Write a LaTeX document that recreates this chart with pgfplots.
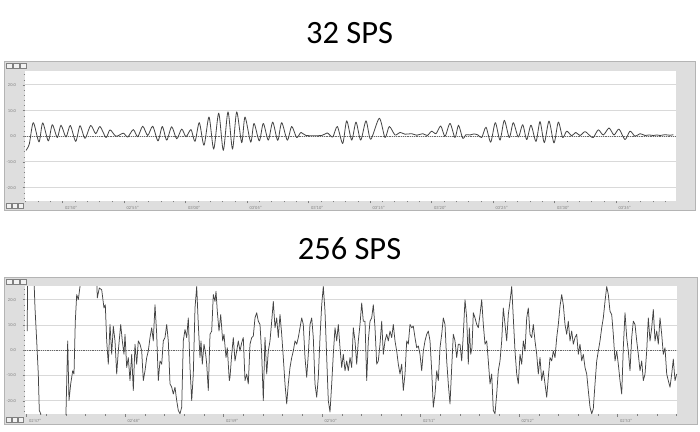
\documentclass[border=0pt]{standalone}
\usepackage{fontspec}
\setmainfont{Carlito}
\usepackage{pgfplots}
\pgfplotsset{compat=1.18}
\definecolor{framegray}{HTML}{DEDEDE}
\definecolor{frameedge}{HTML}{B4B4B4}
\definecolor{gridgray}{HTML}{D9D9D9}
\definecolor{sig}{HTML}{444444}
\definecolor{lbl}{HTML}{808080}
\pgfplotsset{
  panel/.style={
    anchor=south west, scale only axis,
    ymin=-25.2, ymax=25.4,
    axis line style={draw=none},
    axis background/.style={fill=white},
    ytick={-20,-10,0,10,20},
    yticklabels={-20.0,-10.0,0.0,10.0,20.0},
    minor ytick={-24,-22,...,24},
    ymajorgrids, grid style={gridgray, line width=0.9pt},
    minor grid style={draw=none},
    xtick pos=bottom, ytick pos=left,
    tick align=outside,
    major tick length=2.5pt, minor tick length=1.5pt,
    tick style={lbl, line width=0.4pt},
    every tick label/.append style={font=\fontsize{4.5}{5}\selectfont, text=lbl},
    yticklabel style={anchor=east, xshift=-3pt},
    xticklabel style={anchor=north west, xshift=-1pt, yshift=1pt},
    clip=true,
  },
  sigline/.style={sig, line width=0.8pt, line join=round},
}
\begin{document}
\begin{tikzpicture}[x=1pt,y=1pt]
\useasboundingbox (0,0) rectangle (700,431);
% ---------------- top panel frame ----------------
\fill[framegray] (4,221) rectangle (695,370);
\draw[frameedge, line width=0.9pt] (4,221) rectangle (695,370);
\foreach \i in {0,1,2} {\draw[lbl, fill=white!90!gray, line width=0.4pt] (6+7*\i,363) rectangle (12+7*\i,368);}
\foreach \i in {0,1,2} {\draw[lbl, fill=white!90!gray, line width=0.4pt] (6+6*\i,223) rectangle (11.5+6*\i,228);}
\node[anchor=base, font=\fontsize{32.5}{38}\selectfont] at (349.5,387.5) {32 SPS};
\begin{axis}[panel, at={(25pt,230pt)}, width=651pt, height=130pt,
  xmin=25, xmax=676,
  xtick={62.5,124,185.5,247,308.5,370,431.5,493,554.5,616},
  xticklabels={02'50'',02'55'',03'00'',03'05'',03'10'',03'15'',03'20'',03'25'',03'30'',03'35''},
  minor xtick={25.6,37.9,...,676},
]
\addplot[lbl!80!black, densely dotted, line width=0.8pt] coordinates {(25,0) (676,0)};
\addplot[sigline, smooth, tension=0.45] coordinates {
(26,-5.5) (29.3,-3) (33.3,5.3) (39,-2.2) (42.7,5.2) (48.3,-1.8) (52.3,4.5) (57.3,-0.5) (61,4.3) (66,-0.3)
(70.3,4.2) (75.7,-2) (80,4.1) (85,-0.8) (90.7,4.2) (95.7,1.0) (100,3.8) (106,-0.5) (110,2.5) (116,0)
(123.3,1.2) (127.7,-0.3) (133.3,2.6) (137.7,-0.2) (142.7,3.9) (147.7,0.3) (152.7,3.9) (158,-1.8) (162.3,3.8) (166.7,-1.5)
(171.7,3.7) (176.7,-1) (181.7,2.8) (186,-0.2) (191,2.6) (195,-2) (199.3,5.3) (204,-3.5) (209,7.5) (213.7,-5)
(218.7,9) (223.3,-5.5) (228,9.5) (232.5,-5) (236.7,9.5) (241.7,-2.5) (245,7.5) (250.7,-2.3) (254,5) (259.3,-1.8)
(263.3,5) (268.3,-1.5) (272.7,5.5) (277.7,-1.6) (281.7,5.3) (287.3,-1.5) (291.7,3.8) (296.7,-0.5) (301,1.5) (306,0.3)
(321.7,0.3) (327.3,1.3) (332.7,-0.3) (337.3,3.8) (342.7,-2.8) (346.7,6) (351.7,-1.5) (356,5.5) (360.7,-1.5) (366,6)
(370.7,-1.2) (379.3,7) (385,-0.5) (389.3,3.8) (395,0.5) (400,1.5) (405,0.8) (411.7,1.0) (416.7,0.4) (422.7,1.0)
(427.3,0.3) (431.7,2) (436,1) (440.7,4) (445,0) (450,5) (455,-0.5) (458.5,4.3) (462.7,-0.8) (466,0.6)
(470,0.5) (474,0.9) (478,0.5) (481.7,-0.5) (486,3.5) (490.7,-2.3) (495.3,5.3) (500,-1.5) (504.3,6.2) (509.3,-0.5)
(513.3,5.3) (518.3,-0.3) (522.7,4.5) (526.7,-1.3) (531,4.3) (536,-2) (540,5.7) (544.3,-2.5) (549,5.9) (554,-2.6)
(558.3,5.5) (562.7,-0.5) (566.7,2) (571.7,0.2) (575.7,1.5) (580,0.3) (585,1.8) (590,0.2) (593.3,-0.5) (598.3,2.5)
(603.3,0.5) (609,3.2) (614,0.5) (619,2.8) (625,-1.3) (630,2) (635,0) (640,1) (645,0.3) (649,0.5)
(653.3,0.3) (657,0.5) (660,0.3) (665,0.6) (670,0.4) (673.3,0.6)
};
\end{axis}
% ---------------- bottom panel frame ----------------
\fill[framegray] (4,7) rectangle (697,154);
\draw[frameedge, line width=0.9pt] (4,7) rectangle (697,154);
\foreach \i in {0,1,2} {\draw[lbl, fill=white!90!gray, line width=0.4pt] (6+7*\i,147) rectangle (12+7*\i,152);}
\foreach \i in {0,1,2} {\draw[lbl, fill=white!90!gray, line width=0.4pt] (6+6*\i,9) rectangle (11.5+6*\i,14);}
\node[anchor=base, font=\fontsize{32.5}{38}\selectfont] at (349.5,171.5) {256 SPS};
\begin{axis}[panel, at={(25pt,17pt)}, width=652pt, height=128pt,
  xmin=25, xmax=677,
  xtick={26.5,125,223.5,322,420.5,519,617.5},
  xticklabels={02'47'',02'48'',02'49'',02'50'',02'51'',02'52'',02'53''},
  minor xtick={26.5,46.2,...,677},
]
\addplot[lbl!80!black, densely dotted, line width=0.8pt] coordinates {(25,0) (677,0)};
\addplot[sigline, line width=0.75pt] coordinates {
(27.3,7.6) (27.5,30) (33.8,30) (35,16.7) (36.7,3.7) (38.3,-9.4) (39.3,-23.8) (40.7,-25.1) (41.2,-30) (65.6,-30)
(66,-24.4) (67.7,3.7) (69,-19.9) (70.7,-13.3) (72.7,-8.1) (74,-9.4) (75.3,11.5) (76.7,22.0) (78.3,20.0) (80,25.2)
(80.6,30) (96.5,30) (97.3,20.7) (99.3,24.6) (101.7,23.9) (104,16.7) (105.3,18.0) (106.7,3.7) (108.3,-5.5) (110,10.2)
(111.7,-1.6) (113.3,9.5) (115,3.7) (116.7,-9.4) (118.3,-0.3) (120.7,10.2) (122.3,3.7) (124,-1.6) (125,6.3) (126.7,-6.8)
(128.3,-2.9) (130,-12.0) (131.7,-1.6) (133.3,-15.9) (135,2.4) (136.7,-5.5) (138.3,3.7) (140,2.4) (141.7,-0.3) (143.3,-12.0)
(145,-8.1) (146.7,-2.9) (148.3,-0.3) (150,5.0) (151.7,8.9) (153.3,3.7) (155,18.0) (156.7,6.3) (158.3,-12.0) (160,-4.2)
(161.7,-5.5) (163.3,3.7) (165,5.0) (166.7,10.2) (168.3,3.7) (170,-13.3) (171.7,-14.6) (173.3,-17.3) (175,-14.6) (176.7,-19.9)
(178.3,-23.8) (180,-25.1) (181.7,-22.5) (183.3,3.7) (185,8.2) (186.7,5.0) (188.3,12.8) (190,-6.8) (191.7,-19.9) (193.3,-9.4)
(195,16.7) (196.7,25.2) (198.3,10.2) (200,-2.9) (201,3.7) (202.3,-5.5) (204,2.4) (205.7,-1.6) (206.7,-5.5) (208.3,-15.9)
(210,6.3) (211.7,7.6) (213.3,22.0) (215,19.3) (216,23.3) (217.3,15.4) (219,7.6) (220.7,14.1) (222.7,3.7) (224,6.3)
(226,-2.9) (227.3,1.0) (229.3,-12.0) (230,-10.7) (231.7,-1.6) (233.3,5.0) (235,-4.2) (236.7,-0.3) (238.3,3.7) (240,-0.3)
(241.7,3.0) (243.3,5.0) (245,-12.0) (246.7,-9.4) (248.3,-13.3) (250,2.4) (251.7,5.0) (253.3,5.6) (255,12.8) (256.7,14.8)
(258.3,11.5) (260,10.2) (261.7,-1.6) (263.3,-19.9) (265,5.0) (266.7,-9.4) (268.3,-0.3) (270,3.7) (271.7,11.5) (273.3,19.3)
(275,8.9) (276.7,12.8) (278.3,5.0) (280,14.1) (281.7,6.3) (283.3,-2.9) (285,-13.3) (286.7,-21.2) (288.3,-13.3) (290,-6.8)
(291.7,-2.9) (293.3,-0.3) (295,3.7) (296.7,2.4) (298.3,5.0) (300,8.9) (301.7,12.8) (303.3,10.2) (305,-2.9) (306.7,-10.7)
(308.3,-1.6) (310,10.2) (311.7,12.8) (313.3,5.0) (315,-13.3) (316.7,-18.6) (318.3,-10.7) (320,5.0) (321.7,18.0) (323.3,25.2)
(325,15.4) (326.7,-2.9) (328.3,-19.9) (330,-24.4) (331.7,-13.3) (333.3,-1.6) (335,8.9) (336.7,3.7) (338.3,10.2) (340,1.0)
(341.7,-6.8) (343.3,-1.6) (345,-8.1) (346.7,-4.2) (348.3,-8.1) (350,-2.9) (351.7,-6.8) (353.3,8.9) (355,3.7) (356.7,-5.5)
(358.3,3.7) (360,10.2) (361.7,18.7) (363.3,11.5) (365,11.5) (366.7,-12.0) (368.3,3.7) (370,11.5) (371.7,12.8) (373.3,18.0)
(375,8.9) (376.7,-5.5) (378.3,-4.2) (380,2.4) (381.7,11.5) (383.3,-1.6) (385,3.7) (386.7,6.3) (388.3,3.7) (390,7.6)
(391.7,5.0) (393.3,10.2) (395,3.7) (396.7,-0.3) (398.3,-5.5) (400,-9.4) (401.7,-5.5) (403.3,-15.9) (405,-9.4) (406.7,3.7)
(408.3,2.4) (410,10.2) (411.7,8.9) (413.3,9.5) (415,5.0) (416.7,1.0) (418.3,1.7) (420,-1.6) (421.7,-8.1) (423.3,-0.3)
(425,3.7) (426.7,6.3) (428.3,7.6) (430,3.7) (431.7,-8.1) (433.3,-22.5) (435,-17.3) (436.7,-8.1) (438.3,-12.0) (440,1.0)
(441.7,6.3) (443.3,12.8) (445,10.2) (446.7,-4.2) (448.3,-13.3) (450,-21.2) (451.7,-6.8) (453.3,6.3) (455,3.7) (456.7,-2.9)
(458.3,2.4) (460,2.4) (461.7,-4.2) (463.3,6.3) (465,20.0) (466.7,12.8) (468.3,-5.5) (469.3,8.9) (470.7,-1.6) (472,1.0)
(473.3,14.8) (475,12.8) (476.7,10.2) (478.3,8.9) (480,14.1) (481.7,20.0) (483.3,10.2) (485,2.4) (486.7,3.7) (488.3,-4.2)
(490,-13.3) (491.7,-9.4) (493.3,-23.8) (495,-25.1) (496.7,-17.3) (498.3,-8.1) (500,-4.2) (501.7,3.7) (503.3,16.7) (505,10.2)
(506.7,3.7) (508.3,14.1) (510,19.3) (511.7,25.2) (513.3,12.8) (515,-0.3) (516.7,-9.4) (518.3,-13.3) (520,-1.6) (521.7,-5.5)
(523.3,3.7) (525,-0.3) (526.7,12.8) (528.3,16.7) (530,6.3) (531.7,5.0) (533.3,10.2) (535,3.7) (536.7,-1.6) (538.3,-9.4)
(540,-2.9) (541.7,-12.0) (543.3,-8.1) (545,-13.3) (546.7,-18.6) (548.3,-10.7) (550,-2.9) (551.7,-4.2) (553.3,-0.3) (555,-2.9)
(556.7,5.0) (558.3,10.2) (560,17.4) (561.7,22.0) (563.3,18.0) (565,10.2) (566.7,6.3) (568.3,11.5) (570,3.7) (571.7,7.6)
(573.3,2.4) (575,5.0) (576.7,6.3) (578.3,-1.6) (580,2.4) (581.7,-4.2) (583.3,-1.6) (585,-6.8) (586.7,-9.4) (588.3,-15.9)
(590,-22.5) (591.7,-25.1) (593.3,-23.1) (595,-13.3) (596.7,-4.2) (598.3,-0.3) (600,3.7) (601.7,8.9) (603.3,12.8) (605,19.3)
(606.7,25.2) (608.3,22.0) (610,15.4) (611.7,14.1) (613.3,6.3) (615,-4.2) (616.7,-0.3) (618.3,-5.5) (620,-12.0) (621.7,-17.3)
(623.3,1.0) (625,14.8) (626.7,5.0) (628.3,-0.3) (630,-8.1) (631.7,5.0) (633.3,11.5) (635,10.2) (636.7,3.7) (638.3,-1.6)
(640,-8.1) (641.7,-4.2) (643.3,-12.0) (645,-9.4) (646.7,-0.3) (648.3,12.8) (650,3.7) (651.7,8.9) (653.3,16.1) (655,3.7)
(656.7,7.6) (658.3,2.4) (660,12.8) (661.7,6.3) (663.3,-1.6) (665,1.0) (666.7,-9.4) (668.3,-12.0) (670,-14.6) (671.7,-9.4)
(673.3,-3.5) (675,-12.0) (676.7,-9.4)
};
\end{axis}
\end{tikzpicture}
\end{document}
